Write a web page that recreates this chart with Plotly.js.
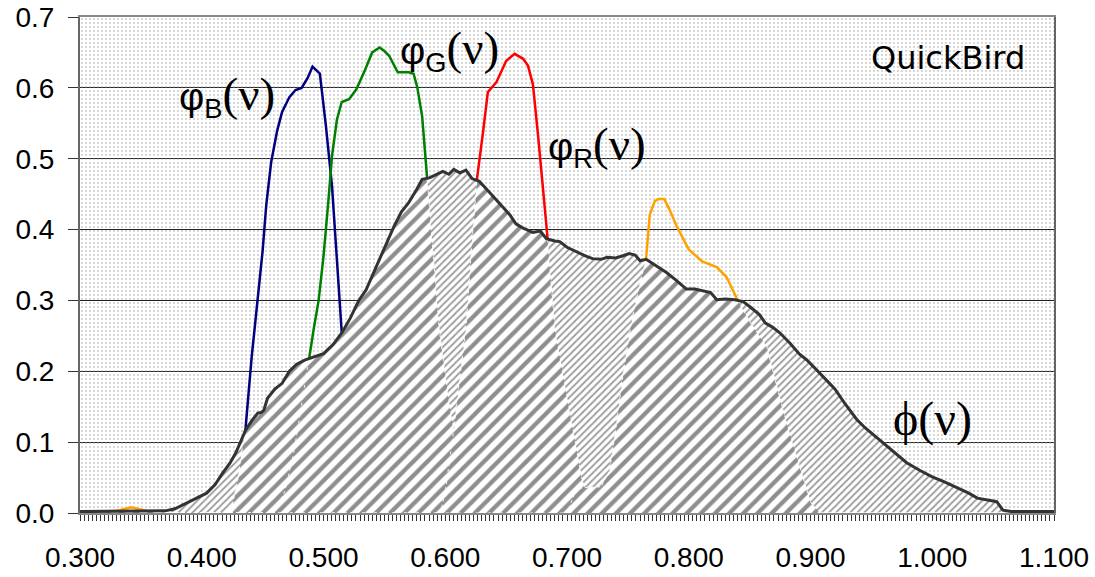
<!DOCTYPE html>
<html>
<head>
<meta charset="utf-8">
<script src="https://cdn.plot.ly/plotly-3.0.1.min.js"></script>
<style>
html,body{margin:0;padding:0;background:#fff;}
#chart{width:1095px;height:577px;}
</style>
</head>
<body>
<div id="chart"></div>
<script>
// ---------------- data ----------------
const X_RANGE = [0.3, 1.1];
const Y_RANGE = [0, 0.7];

// total spectrum phi(nu)
const lamPhi = [0.300,0.320,0.340,0.360,0.370,0.378,0.387,0.395,0.404,0.411,0.417,0.423,0.428,0.436,0.441,0.446,0.449,0.451,0.454,0.460,0.466,0.472,0.478,0.485,0.492,0.500,0.508,0.515,0.522,0.529,0.535,0.541,0.546,0.552,0.558,0.564,0.570,0.576,0.581,0.587,0.593,0.598,0.603,0.607,0.612,0.617,0.622,0.628,0.634,0.640,0.645,0.653,0.658,0.664,0.672,0.678,0.683,0.690,0.694,0.700,0.708,0.715,0.721,0.728,0.733,0.740,0.746,0.751,0.756,0.760,0.765,0.772,0.782,0.790,0.798,0.805,0.812,0.818,0.823,0.830,0.838,0.845,0.851,0.858,0.863,0.869,0.875,0.883,0.891,0.897,0.905,0.913,0.920,0.928,0.938,0.945,0.952,0.959,0.968,0.979,0.990,1.000,1.010,1.020,1.030,1.037,1.048,1.053,1.058,1.065,1.100];
const phiVals = [0.002,0.002,0.002,0.002,0.003,0.006,0.014,0.020,0.028,0.040,0.056,0.070,0.085,0.117,0.130,0.141,0.142,0.145,0.162,0.175,0.183,0.200,0.210,0.216,0.220,0.225,0.238,0.254,0.275,0.300,0.315,0.338,0.358,0.382,0.405,0.425,0.438,0.455,0.471,0.473,0.478,0.482,0.478,0.485,0.480,0.484,0.472,0.468,0.457,0.445,0.436,0.421,0.408,0.402,0.396,0.398,0.387,0.384,0.383,0.375,0.368,0.363,0.359,0.358,0.361,0.360,0.363,0.366,0.364,0.356,0.358,0.350,0.339,0.328,0.316,0.316,0.313,0.311,0.301,0.302,0.301,0.298,0.290,0.280,0.268,0.262,0.254,0.240,0.224,0.216,0.202,0.188,0.175,0.155,0.132,0.120,0.110,0.099,0.086,0.071,0.060,0.051,0.044,0.036,0.028,0.021,0.018,0.016,0.004,0.002,0.002];

// band responses
const lamB = [0.300,0.418,0.425,0.430,0.434,0.436,0.441,0.446,0.450,0.453,0.457,0.462,0.466,0.472,0.477,0.482,0.487,0.491,0.497,0.502,0.507,0.511,0.515,0.520,0.525,0.530,0.536,1.100];
const valB = [0,0,0.01,0.05,0.10,0.12,0.22,0.30,0.37,0.435,0.495,0.54,0.566,0.587,0.597,0.600,0.614,0.630,0.620,0.546,0.461,0.358,0.254,0.150,0.070,0.020,0,0];

const lamG = [0.300,0.460,0.468,0.475,0.482,0.488,0.492,0.496,0.500,0.504,0.507,0.511,0.515,0.521,0.527,0.534,0.540,0.546,0.550,0.554,0.561,0.570,0.574,0.577,0.581,0.585,0.590,0.595,0.601,0.607,0.613,0.618,0.624,1.100];
const valG = [0,0,0.03,0.08,0.15,0.22,0.26,0.30,0.362,0.44,0.504,0.555,0.580,0.584,0.598,0.625,0.650,0.657,0.652,0.645,0.622,0.622,0.620,0.601,0.56,0.475,0.36,0.26,0.18,0.117,0.06,0.02,0,0];

const lamR = [0.300,0.596,0.600,0.604,0.607,0.612,0.617,0.621,0.626,0.631,0.635,0.642,0.650,0.657,0.664,0.668,0.672,0.676,0.680,0.684,0.690,0.698,0.705,0.712,0.718,0.725,1.100];
const valR = [0,0,0.03,0.08,0.117,0.19,0.26,0.36,0.471,0.537,0.594,0.608,0.638,0.648,0.641,0.631,0.605,0.537,0.461,0.389,0.26,0.184,0.117,0.05,0.015,0,0];

const lamN = [0.300,0.330,0.342,0.355,0.370,0.700,0.708,0.728,0.735,0.740,0.745,0.752,0.758,0.765,0.768,0.772,0.775,0.780,0.785,0.790,0.800,0.811,0.823,0.831,0.840,0.850,0.864,0.872,0.880,0.890,0.900,0.908,1.100];
const valN = [0,0.003,0.008,0.003,0,0,0.035,0.037,0.06,0.117,0.184,0.26,0.31,0.36,0.421,0.44,0.443,0.443,0.425,0.405,0.372,0.355,0.347,0.333,0.301,0.27,0.235,0.18,0.13,0.07,0.015,0,0];

const bandNames = ['φB(ν)','φG(ν)','φR(ν)','φNIR(ν)'];
const bandColors = ['#000080','#008000','#ff0000','#ffa200'];

// ---------------- helpers ----------------
function interp(xs, ys, x){
  if(x <= xs[0]) return ys[0];
  if(x >= xs[xs.length-1]) return ys[ys.length-1];
  for(let i=1;i<xs.length;i++){
    if(x <= xs[i]){
      const t = (x - xs[i-1])/(xs[i]-xs[i-1]);
      return ys[i-1] + t*(ys[i]-ys[i-1]);
    }
  }
  return ys[ys.length-1];
}
// area under min(band, phi) on the union grid
function minCurve(lb, vb){
  const set = new Set(lamPhi.concat(lb));
  const xs = Array.from(set).sort((a,b)=>a-b);
  const ys = xs.map(x => Math.min(interp(lb, vb, x), interp(lamPhi, phiVals, x)));
  return {xs, ys};
}

const bands = [[lamB,valB],[lamG,valG],[lamR,valR],[lamN,valN]];
const traces = [];

// dotted plot background (pattern only, gridlines show through)
traces.push({
  x: X_RANGE, y: [Y_RANGE[1], Y_RANGE[1]], type:'scatter', mode:'lines',
  line:{width:0}, fill:'tozeroy', fillcolor:'rgba(0,0,0,0)',
  fillpattern:{shape:'.', size:4, solidity:0.1, fgcolor:'#999999', bgcolor:'rgba(0,0,0,0)'},
  hoverinfo:'skip', showlegend:false
});

// band lines (hidden under the spectrum fill below phi)
bands.forEach((b,i)=>{
  traces.push({x:b[0], y:b[1], type:'scatter', mode:'lines', name:bandNames[i],
    line:{color:bandColors[i], width:2.5}, showlegend:false});
});

// spectrum fill: fine hatch
traces.push({x:lamPhi, y:phiVals, type:'scatter', mode:'lines', line:{width:0},
  fill:'tozeroy', fillcolor:'#ffffff',
  fillpattern:{shape:'/', size:5, solidity:0.35, fgcolor:'#9c9c9c', bgcolor:'#ffffff'},
  hoverinfo:'skip', showlegend:false});

// band-weighted areas: coarse hatch
bands.forEach((b,i)=>{
  const c = minCurve(b[0], b[1]);
  traces.push({x:c.xs, y:c.ys, type:'scatter', mode:'lines',
    line:{width:1, color:'rgba(255,255,255,0.9)', dash:'dot'},
    fill:'tozeroy', fillcolor:'#ffffff',
    fillpattern:{shape:'/', size:10, solidity:0.42, fgcolor:'#8e8e8e', bgcolor:'#ffffff'},
    hoverinfo:'skip', showlegend:false});
});

// spectrum line
traces.push({x:lamPhi, y:phiVals, type:'scatter', mode:'lines', name:'ϕ(ν)',
  line:{color:'#333333', width:3}, showlegend:false});

const serif = 'Liberation Serif, Times New Roman, serif';
const sans = 'Liberation Sans, Arial, sans-serif';
function bandLabel(sub){
  return 'φ<sub>'+sub+'</sub><span style="font-family:Liberation Serif;font-size:47px">(ν)</span>';
}

const annotations = [
  {x:0.380, y:0.588, xref:'x', yref:'y', xanchor:'left', yanchor:'middle', showarrow:false,
   text:bandLabel('B'), font:{family:sans, size:39, color:'#000'}},
  {x:0.561, y:0.653, xref:'x', yref:'y', xanchor:'left', yanchor:'middle', showarrow:false,
   text:bandLabel('G'), font:{family:sans, size:39, color:'#000'}},
  {x:0.683, y:0.518, xref:'x', yref:'y', xanchor:'left', yanchor:'middle', showarrow:false,
   text:bandLabel('R'), font:{family:sans, size:39, color:'#000'}},
  {x:0.966, y:0.133, xref:'x', yref:'y', xanchor:'left', yanchor:'middle', showarrow:false,
   text:'ϕ(ν)', font:{family:serif, size:48, color:'#000'}},
  {x:0.948, y:0.642, xref:'x', yref:'y', xanchor:'left', yanchor:'middle', showarrow:false,
   text:'QuickBird', font:{family:'DejaVu Sans, sans-serif', size:32, color:'#000'}}
];

const layout = {
  width:1095, height:577,
  margin:{l:80, r:41, t:17, b:64, pad:0},
  paper_bgcolor:'#ffffff', plot_bgcolor:'#ffffff',
  showlegend:false,
  font:{family:sans, color:'#000'},
  xaxis:{
    range:X_RANGE, tick0:0.3, dtick:0.1, tickformat:'.3f',
    ticks:'outside', ticklen:6, tickwidth:1, tickcolor:'#333',
    minor:{dtick:0.1/30, ticks:'outside', ticklen:6, tickwidth:1, tickcolor:'#333', showgrid:false},
    showgrid:false, zeroline:false,
    showline:true, linecolor:'#888', linewidth:2, mirror:true,
    tickfont:{family:sans, size:28, color:'#000'}, ticklabelstandoff:12
  },
  yaxis:{
    range:Y_RANGE, tick0:0, dtick:0.1, tickformat:'.1f',
    ticks:'outside', ticklen:10, tickwidth:1, tickcolor:'#333',
    showgrid:true, gridcolor:'#222', gridwidth:1, zeroline:false,
    showline:true, linecolor:'#666', linewidth:2, mirror:true,
    tickfont:{family:sans, size:28, color:'#000'}, ticklabelstandoff:8
  },
  annotations: annotations
};

Plotly.newPlot('chart', traces, layout, {staticPlot:true, displayModeBar:false});
</script>
</body>
</html>
